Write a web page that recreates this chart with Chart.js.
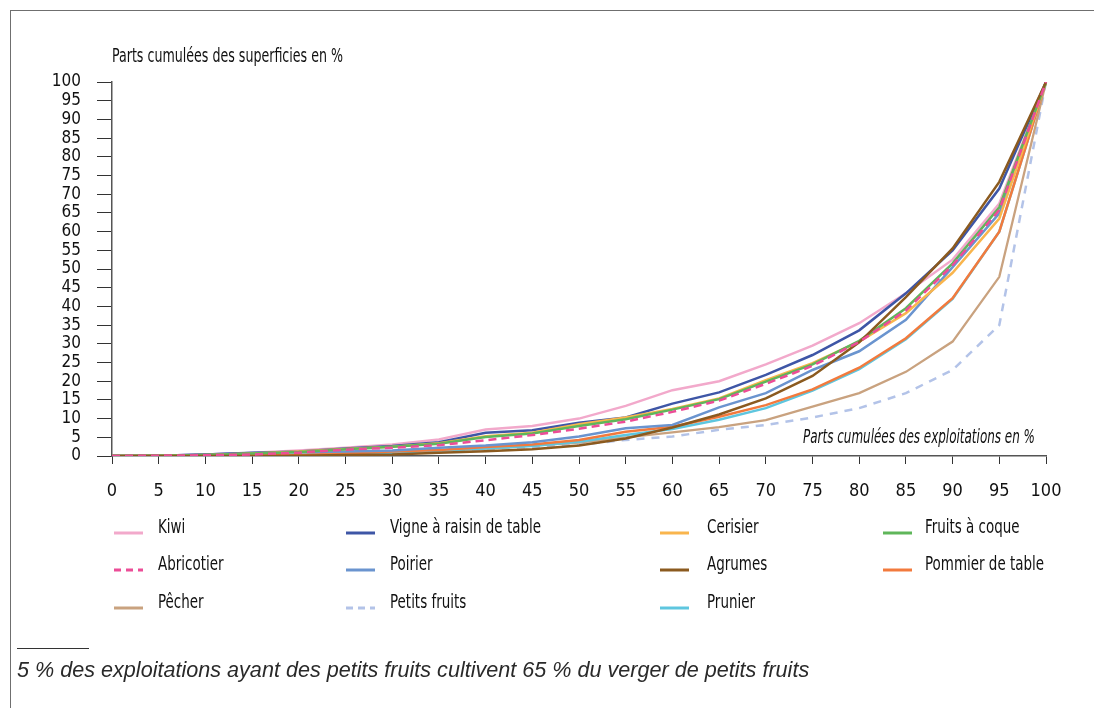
<!DOCTYPE html>
<html>
<head>
<meta charset="utf-8">
<script src="https://cdn.jsdelivr.net/npm/chart.js@4.4.1/dist/chart.umd.min.js"></script>
<style>
  html, body { margin: 0; padding: 0; background: #fff; }
  #wrap { position: relative; width: 1094px; height: 708px; overflow: hidden; }
  #frame { position: absolute; left: 10px; top: 10px; right: -5px; bottom: -5px;
           border-left: 1.5px solid #6f6f6f; border-top: 1.5px solid #6f6f6f; }
  canvas { position: absolute; left: 0; top: 0; }
  #sep { position: absolute; left: 17px; top: 648px; width: 72px; height: 0; border-top: 1px solid #333; }
  #note { position: absolute; left: 17px; top: 657px; font-family: 'Liberation Sans', Arial, sans-serif;
          font-style: italic; font-size: 21.6px; color: #2a2a2a; white-space: nowrap; }
</style>
</head>
<body>
<div id="wrap">
  <div id="frame"></div>
  <canvas id="c" width="1094" height="708"></canvas>
  <div id="sep"></div>
  <div id="note">5 % des exploitations ayant des petits fruits cultivent 65 % du verger de petits fruits</div>
</div>
<script>
const categories = ['0','5','10','15','20','25','30','35','40','45','50','55','60','65','70','75','80','85','90','95','100'];
const yTickLabels = ['0','5','10','15','20','25','30','35','40','45','50','55','60','65','70','75','80','85','90','95','100'];

const kiwi        = [0, 0.1, 0.4, 0.9, 1.5, 2.2, 3.1, 4.4, 7.1, 8.0, 10.0, 13.4, 17.6, 20.0, 24.5, 29.5, 35.5, 43.5, 52.5, 67.5, 100];
const vigne       = [0, 0.1, 0.4, 0.8, 1.2, 2.0, 2.7, 3.7, 6.2, 6.9, 8.9, 10.3, 14.0, 17.0, 21.7, 27.0, 33.6, 43.5, 55.0, 71.5, 100];
const cerisier    = [0, 0.1, 0.3, 0.7, 1.2, 1.9, 2.5, 3.4, 5.3, 6.2, 8.5, 10.3, 12.6, 15.4, 20.3, 24.8, 30.6, 38.2, 49.0, 63.5, 100];
const fruitsCoque = [0, 0.1, 0.3, 0.7, 1.1, 1.8, 2.5, 3.3, 5.1, 6.0, 8.0, 9.8, 12.4, 15.2, 19.9, 24.5, 30.8, 39.5, 51.5, 66.5, 100];
const abricotier  = [0, 0.1, 0.2, 0.4, 0.9, 1.7, 2.2, 2.9, 4.2, 5.6, 7.3, 9.2, 11.8, 14.8, 19.3, 24.1, 30.5, 38.9, 51.0, 65.8, 100];
const poirier     = [0, 0.1, 0.4, 0.9, 1.0, 1.2, 1.5, 2.2, 2.8, 3.7, 5.2, 7.4, 8.3, 13.0, 16.8, 23.0, 28.0, 36.4, 50.5, 64.9, 100];
const agrumes     = [0, 0, 0, 0, 0.1, 0.3, 0.4, 0.9, 1.3, 1.8, 2.8, 4.7, 7.6, 11.1, 15.4, 21.4, 30.4, 42.5, 55.5, 73.3, 100];
const pommier     = [0, 0, 0.1, 0.2, 0.3, 0.7, 1.2, 1.6, 2.4, 3.1, 4.3, 6.5, 7.8, 10.5, 13.6, 17.8, 23.6, 31.5, 42.2, 60.0, 100];
const pecher      = [0, 0, 0.1, 0.2, 0.3, 0.6, 0.9, 1.5, 2.0, 2.8, 3.6, 5.0, 6.3, 7.7, 9.6, 13.2, 16.8, 22.5, 30.6, 47.9, 100];
const petitsFruits= [0, 0, 0.1, 0.2, 0.3, 0.5, 0.9, 1.3, 1.8, 2.4, 3.0, 4.3, 5.2, 7.0, 8.3, 10.3, 12.8, 16.8, 23.0, 35.0, 100];
const prunier     = [0, 0, 0.1, 0.2, 0.3, 0.6, 0.9, 1.5, 2.0, 2.7, 3.8, 5.6, 7.2, 9.7, 12.8, 17.5, 23.2, 31.2, 42.0, 60.0, 100];

const yTitle = 'Parts cumulées des superficies en %';
const xTitle = 'Parts cumulées des exploitations en %';

const FONT = "'DejaVu Sans Condensed', 'DejaVu Sans', sans-serif";

function ds(label, data, color, width, dash, order) {
  return { label, data, borderColor: color, backgroundColor: color, borderWidth: width,
           borderDash: dash || [], pointRadius: 0, pointHoverRadius: 0, tension: 0, fill: false, order };
}

const datasets = [
  ds('Kiwi', kiwi, '#f2a9cb', 2.5, null, 10),
  ds('Vigne à raisin de table', vigne, '#3e56a6', 2.5, null, 5),
  ds('Cerisier', cerisier, '#f9b54d', 2.5, null, 4),
  ds('Fruits à coque', fruitsCoque, '#5fb65a', 2.5, null, 3),
  ds('Abricotier', abricotier, '#ec4d97', 2.5, [8, 5], 1),
  ds('Poirier', poirier, '#6a94cf', 2.5, null, 6),
  ds('Agrumes', agrumes, '#8b5a1f', 2.5, null, 2),
  ds('Pommier de table', pommier, '#f27a3d', 2.5, null, 7),
  ds('Pêcher', pecher, '#c9a27f', 2.3, null, 9),
  ds('Petits fruits', petitsFruits, '#b3c3e8', 2.5, [8, 7], 11),
  ds('Prunier', prunier, '#5ec6df', 2.5, null, 8),
];

const legendCols = [[114, 158], [346, 390], [660, 707], [883, 925]];
const legendRows = [528, 565, 603];

function condText(ctx, text, x, y, sx, align) {
  ctx.save();
  ctx.translate(x, y);
  ctx.scale(sx, 1);
  ctx.textAlign = align;
  ctx.fillText(text, 0, 0);
  ctx.restore();
}

const overlay = {
  id: 'overlay',
  afterDraw(chart) {
    const ctx = chart.ctx;
    const a = chart.chartArea;
    ctx.save();
    ctx.fillStyle = '#111';
    ctx.textBaseline = 'middle';
    ctx.font = "20px " + FONT;
    let s = 231 / ctx.measureText(yTitle).width;
    condText(ctx, yTitle, a.left, a.top - 25, s, 'left');
    ctx.font = "italic 20px " + FONT;
    s = 232 / ctx.measureText(xTitle).width;
    condText(ctx, xTitle, a.right - 11, a.bottom - 18, s, 'right');
    ctx.font = "20px " + FONT;
    const ls = 151 / ctx.measureText('Vigne à raisin de table').width;
    chart.data.datasets.forEach((d, i) => {
      const r = Math.floor(i / 4), c = i % 4;
      const [sx, tx] = legendCols[c];
      const y = legendRows[r];
      ctx.strokeStyle = d.borderColor;
      ctx.lineWidth = 3;
      ctx.setLineDash(d.borderDash.length ? [7, 5] : []);
      ctx.beginPath();
      ctx.moveTo(sx, y + 5);
      ctx.lineTo(sx + 29, y + 5);
      ctx.stroke();
      ctx.setLineDash([]);
      ctx.fillStyle = '#111';
      condText(ctx, d.label, tx, y, ls, 'left');
    });
    ctx.restore();
  }
};

new Chart(document.getElementById('c'), {
  type: 'line',
  data: { labels: categories, datasets },
  options: {
    responsive: false,
    animation: false,
    events: [],
    layout: { padding: { left: 0, right: 48, top: 82, bottom: 192 } },
    plugins: { legend: { display: false }, tooltip: { enabled: false }, title: { display: false } },
    scales: {
      x: {
        type: 'category',
        offset: false,
        grid: { display: true, drawOnChartArea: false, drawTicks: true, tickLength: 8, color: '#333', lineWidth: 1 },
        border: { display: true, color: '#555', width: 1.5 },
        ticks: { color: '#111', font: { family: FONT, size: 18 }, padding: 17, autoSkip: false, maxRotation: 0 },
        afterFit(s) { s.height = 60; }
      },
      y: {
        min: 0, max: 100,
        grid: { display: true, drawOnChartArea: false, drawTicks: true, tickLength: 15, color: '#333', lineWidth: 1 },
        border: { display: true, color: '#555', width: 1.5 },
        ticks: { stepSize: 5, autoSkip: false, color: '#111', font: { family: FONT, size: 17 }, padding: 16,
                 callback: (v, i) => yTickLabels[i] },
        afterFit(s) { s.width = 112; }
      }
    }
  },
  plugins: [overlay]
});
</script>
</body>
</html>
